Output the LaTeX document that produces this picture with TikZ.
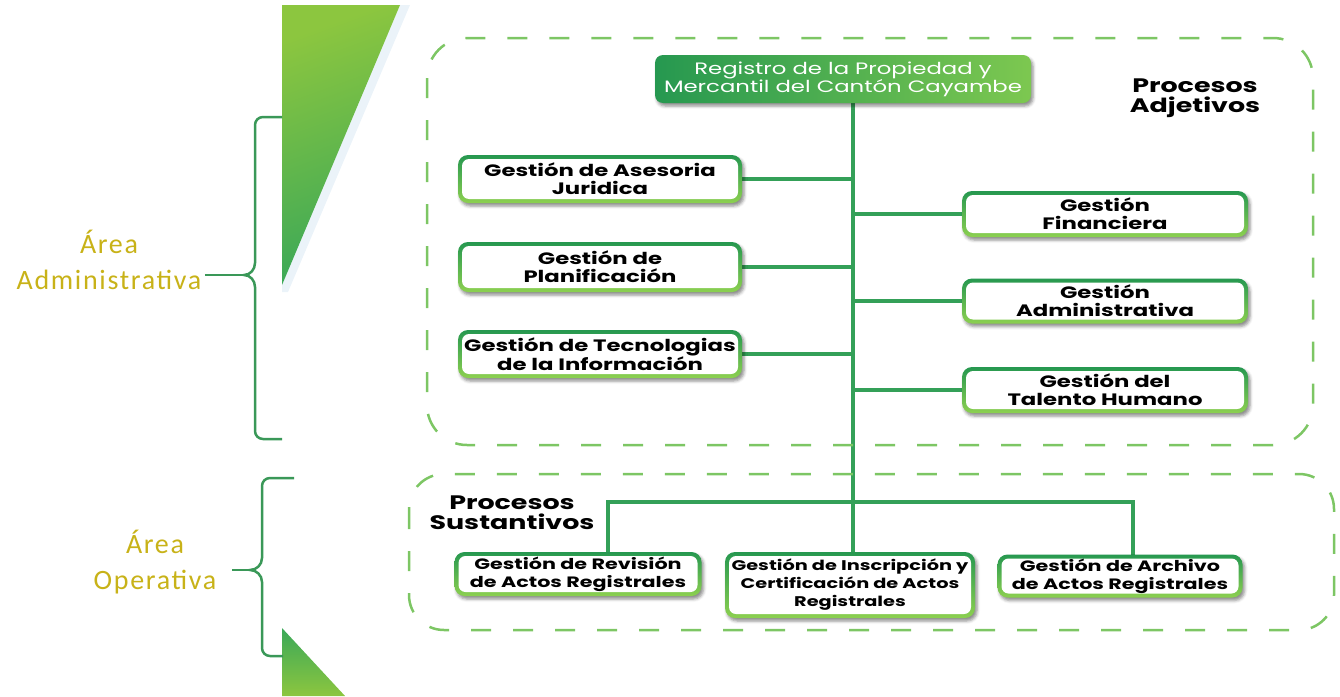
\documentclass[tikz,border=0pt]{standalone}
\usepackage{fontspec}
\setmainfont{Poppins}
\newfontfamily\boxfont{Poppins}[FakeStretch=1.38]
\newfontfamily\areafont{Carlito}[LetterSpace=6]
\usetikzlibrary{shadows.blur,backgrounds}
\definecolor{gdark}{RGB}{38,152,80}
\definecolor{glime}{RGB}{140,208,80}
\definecolor{gline}{RGB}{52,160,88}
\definecolor{gdash}{RGB}{125,198,100}
\definecolor{areacol}{RGB}{200,178,24}
\definecolor{bracecol}{RGB}{58,152,88}
\definecolor{trigA}{RGB}{140,198,63}
\definecolor{trigB}{RGB}{58,168,88}
\definecolor{haze}{RGB}{226,238,246}
\tikzset{
  boxouter/.style={rounded corners=10pt, top color=gdark, bottom color=glime,
    blur shadow={shadow xshift=2pt, shadow yshift=-3pt, shadow opacity=45, shadow blur radius=3pt}},
  boxinner/.style={fill=white, rounded corners=7pt, align=center, inner sep=0pt,
    font=\boxfont\fontsize{16.5}{18}\selectfont\bfseries},
  small/.style={font=\boxfont\fontsize{15}{18}\selectfont\bfseries},
  smaller/.style={font=\boxfont\fontsize{14}{18}\selectfont\bfseries},
  conn/.style={draw=gline, line width=4pt},
  dashbox/.style={draw=gdash, line width=2.5pt, dash pattern=on 20pt off 22pt},
  brace/.style={draw=bracecol, line width=2.5pt},
  areatext/.style={text=areacol, align=center, font=\areafont\fontsize{28}{36}\selectfont},
  proc/.style={align=center, font=\boxfont\fontsize{19.5}{20}\selectfont\bfseries}
}
\newcommand\gbox[7][]{%
  \path[boxouter] ({#3-#5/2},{#4-#6/2}) rectangle ({#3+#5/2},{#4+#6/2});
  \node[boxinner, #1, minimum width={(#5-8)*1pt}, minimum height={(#6-8)*1pt}] (#2) at (#3,#4) {#7};
}
\begin{document}
\begin{tikzpicture}[x=1pt,y=-1pt]
\useasboundingbox (0,0) rectangle (1340,696);
% background triangles
\fill[haze, opacity=0.7] (400,5) -- (410,5) -- (288,292) -- (282,292) -- (282,282) -- cycle;
\shade[top color=trigA, bottom color=trigB, shading angle=20] (282,5) -- (400,5) -- (282,285) -- cycle;
\shade[top color=trigB, bottom color=trigA] (282,628) -- (345,696) -- (282,696) -- cycle;
% dashed frames
\draw[dashbox, rounded corners=40pt] (427,38) rectangle (1313,445);
\draw[dashbox, rounded corners=35pt] (409,474) rectangle (1334,630);
% side labels and braces
\node[areatext] (adm) at (109,260) {Área\\Administrativa};
\node[areatext] (ope) at (155,562) {Área\\Operativa};
\coordinate (cusp1) at (244,275);
\coordinate (cusp2) at (250,570);
\coordinate (oline) at (232,570);
\draw[brace] (282,117) -- (263,117) to[out=180,in=90] (255,125) -- (255,263)
  to[out=-90,in=0] (cusp1) to[out=0,in=90] (255,287) -- (255,431)
  to[out=-90,in=180] (263,439) -- (282,439);
\draw[brace] (adm.east |- cusp1) -- (cusp1);
\draw[brace] (294,478) -- (270,478) to[out=180,in=90] (262,486) -- (262,558)
  to[out=-90,in=0] (cusp2) to[out=0,in=90] (262,582) -- (262,648)
  to[out=-90,in=180] (270,656) -- (283,656);
\draw[brace] (oline) -- (cusp2);
% top node
\node[rounded corners=8pt, left color=gdark, right color=glime!85!gdark,
  blur shadow={shadow xshift=2pt, shadow yshift=-3pt, shadow opacity=45, shadow blur radius=3pt},
  minimum width=376pt, minimum height=48pt, align=center, text=white, inner sep=0pt,
  font=\boxfont\fontsize{16.5}{18}\selectfont] (top) at (843,79)
  {Registro de la Propiedad y\\Mercantil del Cantón Cayambe};
\node[proc] (padj) at (1195,98) {Procesos\\Adjetivos};
\node[proc] (psus) at (512,513) {Procesos\\Sustantivos};
% boxes
\gbox{a1}{600}{179}{284}{48}{Gestión de Asesoria\\Juridica}
\gbox{a2}{600}{267}{284}{50}{Gestión de\\Planificación}
\gbox{a3}{600}{354}{284}{48}{Gestión de Tecnologias\\de la Información}
\gbox{b1}{1105}{214}{286}{46}{Gestión\\Financiera}
\gbox{b2}{1105}{301}{286}{45}{Gestión\\Administrativa}
\gbox{b3}{1105}{390}{286}{46}{Gestión del\\Talento Humano}
\gbox[small]{c1}{578}{574}{247}{44}{Gestión de Revisión\\de Actos Registrales}
\gbox[smaller]{c2}{850}{585}{250}{66}{Gestión de Inscripción y\\Certificación de Actos\\Registrales}
\gbox[small]{c3}{1120}{576}{245}{43}{Gestión de Archivo\\de Actos Registrales}
% connectors
\coordinate (t0) at (853,502);
\coordinate (j1) at (608,502);
\coordinate (j3) at (1133,502);
\begin{scope}[on background layer]
\draw[conn] (top.south -| t0) -- (t0);
\draw[conn] (a1.east) -- (a1.east -| t0);
\draw[conn] (a2.east) -- (a2.east -| t0);
\draw[conn] (a3.east) -- (a3.east -| t0);
\draw[conn] (b1.west -| t0) -- (b1.west);
\draw[conn] (b2.west -| t0) -- (b2.west);
\draw[conn] (b3.west -| t0) -- (b3.west);
\draw[conn] (j1 |- c1.north) -- (j1) -- (j3) -- (j3 |- c3.north);
\draw[conn] (t0) -- (t0 |- c2.north);
\end{scope}
\end{tikzpicture}
\end{document}
